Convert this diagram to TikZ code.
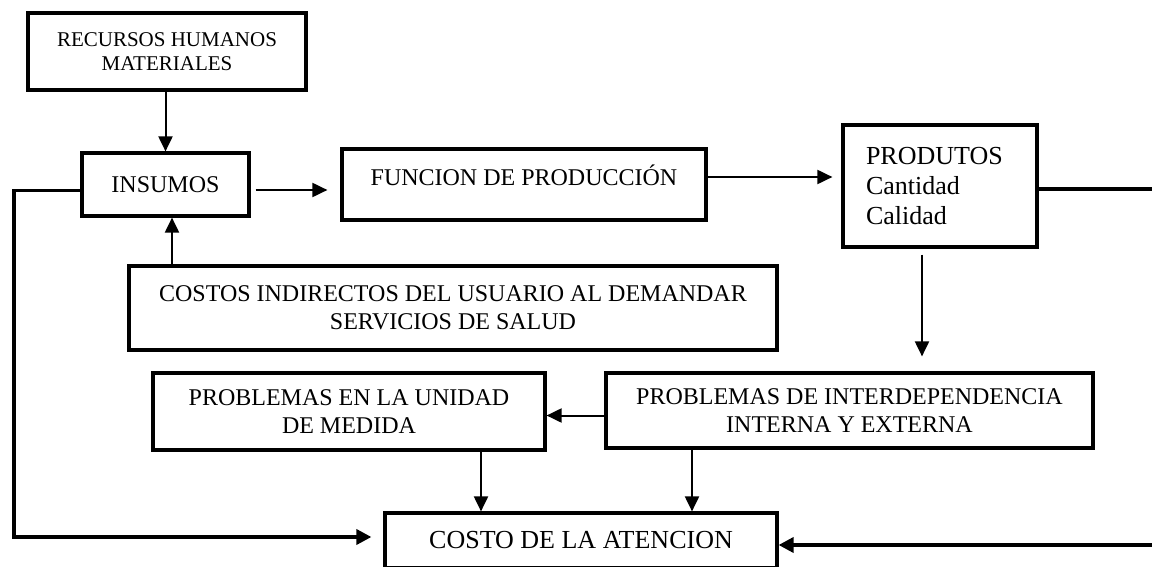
\documentclass[tikz,border=0pt]{standalone}
\usepackage{fontspec}
\setmainfont{Liberation Serif}
\usetikzlibrary{arrows.meta}

\tikzset{
	caja/.style={draw, line width=3.2pt, inner sep=0pt, align=center, font=\fontsize{24}{28}\selectfont},
	flecha/.style={line width=2pt, -{Triangle[length=15pt,width=14pt]}},
	retro/.style={line width=3.5pt, -{Triangle[length=15pt,width=15pt]}},
}

\begin{document}
\begin{tikzpicture}[x=1pt,y=-1pt]
	\useasboundingbox (0,0) rectangle (1152,567);
	\node[caja, minimum width=278pt, minimum height=77pt, font=\fontsize{21}{23.5}\selectfont] (rec) at (167,51.5) {RECURSOS HUMANOS\\MATERIALES};
	\node[caja, minimum width=167pt, minimum height=63pt] (ins) at (165.5,184.5) {INSUMOS};
	\node[caja, minimum width=364pt, minimum height=71pt, text height=17pt, text depth=15pt] (fun) at (524,184.5) {FUNCION DE PRODUCCIÓN};
	\node[caja, minimum width=194pt, minimum height=122pt, text width=148pt, inner xsep=23pt, align=left, font=\fontsize{26}{30}\selectfont] (pro) at (940,186) {PRODUTOS\\Cantidad\\Calidad};
	\node[caja, minimum width=648pt, minimum height=84pt] (cos) at (453,308) {COSTOS INDIRECTOS DEL USUARIO AL DEMANDAR\\SERVICIOS DE SALUD};
	\node[caja, minimum width=392pt, minimum height=77pt] (uni) at (349,411.5) {PROBLEMAS EN LA UNIDAD\\DE MEDIDA};
	\node[caja, minimum width=487pt, minimum height=75pt] (int) at (849.5,410.5) {PROBLEMAS DE INTERDEPENDENCIA\\INTERNA Y EXTERNA};
	\node[caja, minimum width=392pt, minimum height=55pt, font=\fontsize{26}{30}\selectfont] (cat) at (581,540.5) {COSTO DE LA ATENCION};
	\coordinate (izq) at (14,537);
	\coordinate (der) at (1160,545);
	\draw[flecha] (rec.south -| ins.north) -- (ins.north);
	\draw[flecha] ([xshift=5pt,yshift=-5.5pt]ins.east) -- ([xshift=-13pt,yshift=-5.5pt]fun.west);
	\draw[flecha] ([yshift=7.5pt]fun.east) -- ([xshift=-9pt,yshift=9pt]pro.west);
	\draw[flecha] ([xshift=-18pt,yshift=-6pt]pro.south) -- ([xshift=-18pt,yshift=15pt]pro.south |- int.north);
	\draw[flecha] ([xshift=6.5pt]ins.south |- cos.north) -- ([xshift=6.5pt]ins.south);
	\draw[flecha] ([yshift=-5pt]int.west) -- ([yshift=-5pt]int.west -| uni.east);
	\draw[flecha] ([xshift=132pt]uni.south) -- ([xshift=132pt]uni.south |- cat.north);
	\draw[flecha] ([xshift=-157.5pt]int.south) -- ([xshift=-157.5pt]int.south |- cat.north);
	\draw[retro] ([yshift=-6pt]ins.west) -| (izq) -- ([xshift=-12pt]cat.west |- izq);
	\draw[retro] ([yshift=-3pt]pro.east) -| (der) -- (cat.east |- der);
\end{tikzpicture}
\end{document}
